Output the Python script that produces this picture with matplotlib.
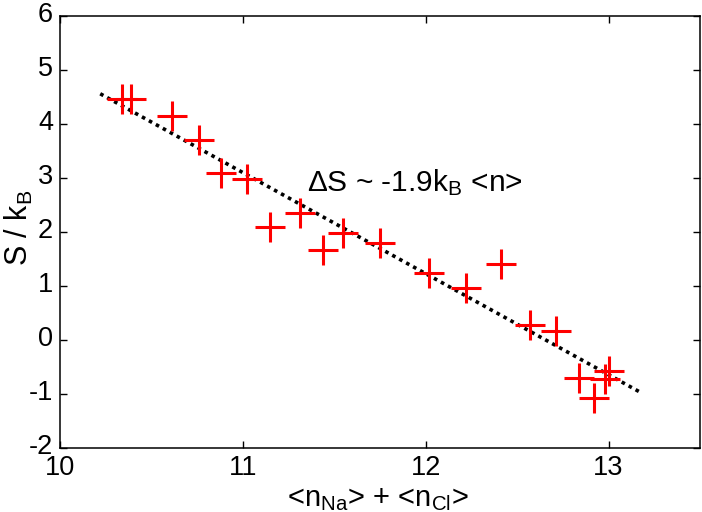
import matplotlib
matplotlib.use("Agg")
import matplotlib.pyplot as plt
import matplotlib.transforms as mtransforms
import numpy as np

plt.rcParams['font.family'] = ['Liberation Sans', 'DejaVu Sans']
plt.rcParams['mathtext.fontset'] = 'custom'
plt.rcParams['mathtext.rm'] = 'Liberation Sans'
plt.rcParams['mathtext.it'] = 'Liberation Sans:italic'
plt.rcParams['axes.unicode_minus'] = False

n_total = [10.34, 10.39, 10.61, 10.76, 10.88, 11.02, 11.15, 11.31, 11.44, 11.55,
           11.75, 12.02, 12.22, 12.41, 12.57, 12.71, 12.84, 12.92, 12.98, 13.00]
entropy = [4.46, 4.46, 4.14, 3.71, 3.10, 2.99, 2.09, 2.36, 1.66, 1.98,
           1.80, 1.25, 0.96, 1.41, 0.28, 0.16, -0.71, -1.08, -0.72, -0.57]
fit_x = [10.22, 13.18]
fit_y = [4.56, -0.98]

fig = plt.figure(figsize=(7.02, 5.12), dpi=100)
ax = fig.add_axes([60/702, 64/512, 640/702, 432/512])

ax.plot(fit_x, fit_y, color='black', linestyle=(0, (1, 1.2)), linewidth=2.6, zorder=2)
ax.plot(n_total, entropy, linestyle='none', marker='+', color='red',
        markersize=22, markeredgewidth=2.2, zorder=3)

ax.text(11.35, 2.91, 'ΔS ~ -1.9k$_\\mathrm{B}$ <n>', fontsize=21.5, va='center', ha='left')

ax.set_xlim(10, 13.5)
ax.set_ylim(-2, 6)
ax.set_xticks([10, 11, 12, 13])
ax.set_yticks([-2, -1, 0, 1, 2, 3, 4, 5, 6])
ax.tick_params(direction='in', length=5, width=1.0, labelsize=19.5,
               top=True, right=True, pad=5)
ax.tick_params(axis='x', pad=5)
for s in ax.spines.values():
    s.set_linewidth(1.1)

shift = mtransforms.ScaledTranslation(0, 2.8/72, fig.dpi_scale_trans)
for lbl in ax.get_yticklabels():
    lbl.set_transform(lbl.get_transform() + shift)

ax.set_xlabel('<n$_\\mathrm{Na}$> + <n$_\\mathrm{Cl}$>', fontsize=21, va='center')
ax.xaxis.set_label_coords(0.497, -0.117)
ax.set_ylabel('S / k$_\\mathrm{B}$', fontsize=22, va='center')
ax.yaxis.set_label_coords(-0.064, 0.51)

fig.savefig('out.png', dpi=100)
